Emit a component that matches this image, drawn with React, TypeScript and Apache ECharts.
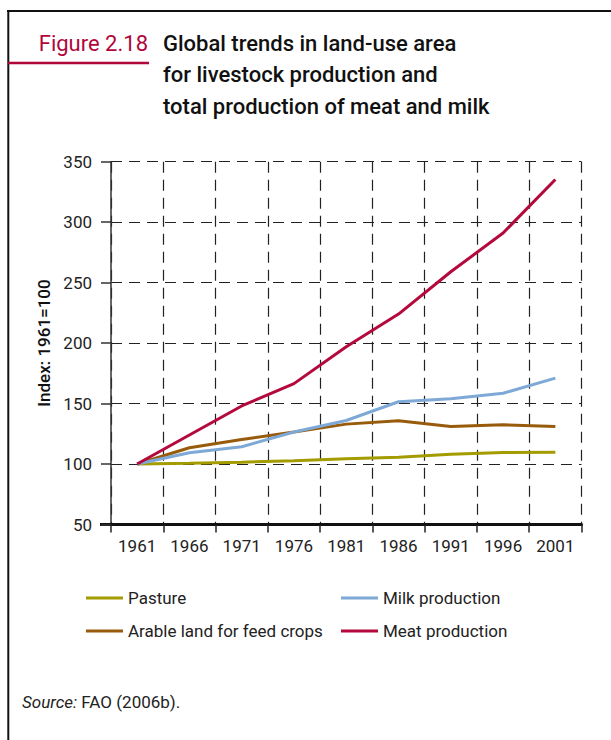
import React, { useEffect, useRef } from "react";
import * as echarts from "echarts";

const years = ["1961", "1966", "1971", "1976", "1981", "1986", "1991", "1996", "2001"];
const pasture = [100, 100.7, 101.5, 102.8, 104.3, 105.6, 108, 109.6, 109.8];
const arable = [100, 113.5, 120.3, 126.5, 133, 135.8, 131, 132.4, 131];
const milk = [100, 109.4, 114.3, 126.5, 136, 151.5, 154, 158.5, 171];
const meat = [100, 124, 148, 166.5, 197, 224, 259, 291, 335.3];

const seriesNames = ["Pasture", "Arable land for feed crops", "Milk production", "Meat production"];
const seriesColors = ["#a39b00", "#985b0b", "#7ea9d6", "#b3093c"];
const seriesData = [pasture, arable, milk, meat];

const titleLines = [
  "Global trends in land-use area",
  "for livestock production and",
  "total production of meat and milk",
];

const FONT = "Roboto, 'Noto Sans', sans-serif";

export default function App() {
  const ref = useRef<HTMLDivElement>(null);
  useEffect(() => {
    if (!ref.current) return;
    const chart = echarts.init(ref.current, null, { renderer: "svg" });
    const legendBase = {
      orient: "vertical",
      top: 588,
      padding: 0,
      icon: "rect",
      itemWidth: 37,
      itemHeight: 3,
      itemGap: 13,
      textStyle: { color: "#222", fontSize: 17, lineHeight: 20, fontFamily: FONT },
      selectedMode: false,
    };
    const option: any = {
      animation: false,
      backgroundColor: "#ffffff",
      textStyle: { fontFamily: FONT },
      grid: { left: 111, top: 161.7, width: 470.5, height: 362.8, containLabel: false },
      xAxis: {
        type: "category",
        data: years,
        boundaryGap: true,
        axisLine: { show: true, lineStyle: { color: "#111", width: 3 } },
        axisTick: { show: true, inside: false, length: 8, lineStyle: { color: "#222", width: 1.5 } },
        axisLabel: { color: "#222", fontSize: 17, margin: 13, fontFamily: FONT },
        splitLine: { show: true, lineStyle: { color: "#222", width: 1.2, type: [11, 7] } },
      },
      yAxis: {
        type: "value",
        min: 50,
        max: 350,
        interval: 50,
        name: "Index: 1961=100",
        nameLocation: "middle",
        nameRotate: 90,
        nameGap: 55,
        nameTextStyle: { color: "#111", fontSize: 17, fontWeight: 500, fontFamily: FONT },
        axisLine: { show: true, lineStyle: { color: "#333", width: 1.5 } },
        axisTick: { show: true, inside: false, length: 10, lineStyle: { color: "#333", width: 1.5 } },
        axisLabel: { color: "#222", fontSize: 17, margin: 19, fontFamily: FONT },
        splitLine: { show: true, lineStyle: { color: "#222", width: 1.2, type: [11, 7] } },
      },
      legend: [
        { ...legendBase, left: 86, data: [seriesNames[0], seriesNames[1]] },
        { ...legendBase, left: 341, data: [seriesNames[2], seriesNames[3]] },
      ],
      series: seriesData.map((d, i) => ({
        name: seriesNames[i],
        type: "line",
        data: d,
        showSymbol: false,
        symbol: "none",
        lineStyle: { color: seriesColors[i], width: 3 },
        itemStyle: { color: seriesColors[i] },
        z: 3 + i,
      })),
      graphic: [
        { type: "line", shape: { x1: 7, y1: 11, x2: 611, y2: 11 }, style: { stroke: "#111", lineWidth: 2 } },
        { type: "line", shape: { x1: 8.3, y1: 10, x2: 8.3, y2: 740 }, style: { stroke: "#111", lineWidth: 2 } },
        { type: "line", shape: { x1: 8, y1: 63, x2: 149, y2: 63 }, style: { stroke: "#b0063a", lineWidth: 2.5 } },
        {
          type: "text",
          x: 148,
          y: 43,
          style: {
            text: "Figure 2.18",
            fill: "#b0063a",
            fontSize: 22,
            fontFamily: FONT,
            align: "right",
            verticalAlign: "middle",
          },
        },
        ...titleLines.map((t, i) => ({
          type: "text",
          x: 163,
          y: 43 + i * 31.5,
          style: {
            text: t,
            fill: "#111",
            fontSize: 22,
            fontWeight: 500,
            fontFamily: FONT,
            align: "left",
            verticalAlign: "middle",
          },
        })),
        { type: "line", shape: { x1: 100, y1: 524.5, x2: 112, y2: 524.5 }, style: { stroke: "#111", lineWidth: 3 } },
        {
          type: "text",
          x: 22,
          y: 702,
          style: {
            text: "{i|Source:} FAO (2006b).",
            fill: "#222",
            fontSize: 17,
            fontFamily: FONT,
            verticalAlign: "middle",
            rich: { i: { fontStyle: "italic", fontSize: 17, fill: "#222", fontFamily: FONT } },
          },
        },
      ],
    };
    chart.setOption(option);
    return () => chart.dispose();
  }, []);
  return (
    <div
      ref={ref}
      style={{ position: "fixed", left: 0, top: 0, width: 611, height: 740, background: "#fff" }}
    />
  );
}
